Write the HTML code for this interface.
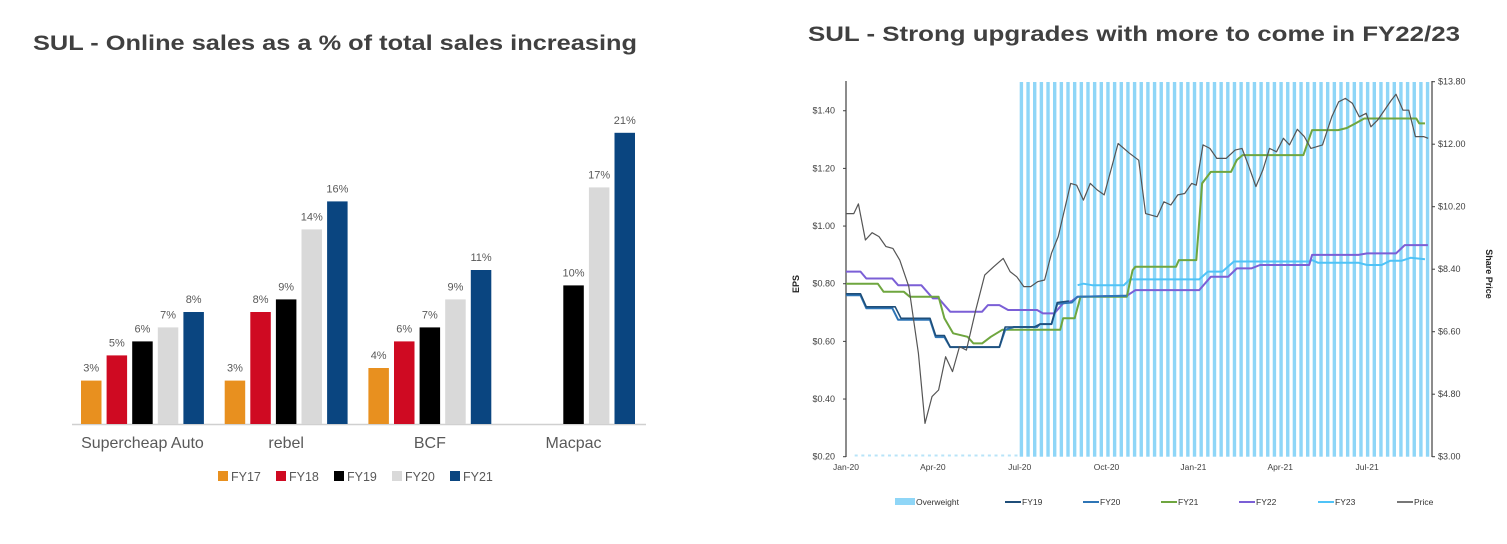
<!DOCTYPE html>
<html><head><meta charset="utf-8"><style>
body{margin:0;background:#fff;}
svg{display:block;font-family:"Liberation Sans","DejaVu Sans",sans-serif;}
</style></head><body>
<svg id="s" width="1507" height="544" viewBox="0 0 1507 544">
<text x="33" y="50" font-size="21" font-weight="bold" fill="#404040" textLength="604" lengthAdjust="spacingAndGlyphs">SUL - Online sales as a % of total sales increasing</text>
<text x="808" y="41" font-size="21" font-weight="bold" fill="#404040" textLength="652" lengthAdjust="spacingAndGlyphs">SUL - Strong upgrades with more to come in FY22/23</text>
<g id="bars"></g>
<g id="lines"></g>
</svg>
<script>
// ---------- Bar chart data ----------
const barCategories = ["Supercheap Auto","rebel","BCF","Macpac"];
const barSeries = ["FY17","FY18","FY19","FY20","FY21"];
const barFY17 = [3.1,3.1,4.0,null];
const barFY18 = [4.9,8.0,5.9,null];
const barFY19 = [5.9,8.9,6.9,9.9];
const barFY20 = [6.9,13.9,8.9,16.9];
const barFY21 = [8.0,15.9,11.0,20.8];
const barLabels = [["3%","5%","6%","7%","8%"],["3%","8%","9%","14%","16%"],["4%","6%","7%","9%","11%"],["","","10%","17%","21%"]];

// ---------- Line chart data ----------
const monthLabels = ["Jan-20","Apr-20","Jul-20","Oct-20","Jan-21","Apr-21","Jul-21"];
const epsTicks = [0.20,0.40,0.60,0.80,1.00,1.20,1.40];
const priceTicks = [3.00,4.80,6.60,8.40,10.20,12.00,13.80];
const overweightStart = 6.0, overweightEnd = 20.1;
const priceData = [[0,10.0],[0.27,10.0],[0.43,10.28],[0.67,9.24],[0.9,9.45],[1.14,9.34],[1.38,9.05],[1.62,9.0],[1.86,8.66],[2.17,7.9],[2.5,5.98],[2.73,3.96],[2.97,4.73],[3.2,4.92],[3.44,5.88],[3.68,5.45],[3.92,6.17],[4.16,6.07],[4.48,7.22],[4.79,8.23],[5.1,8.47],[5.43,8.71],[5.67,8.33],[5.9,8.18],[6.14,7.9],[6.38,7.9],[6.62,8.04],[6.86,8.09],[7.1,8.86],[7.33,9.34],[7.57,10.2],[7.76,10.87],[7.97,10.82],[8.2,10.39],[8.44,10.87],[8.68,10.68],[8.92,10.54],[9.4,12.02],[9.79,11.74],[10.11,11.54],[10.35,10.0],[10.75,9.91],[10.98,10.34],[11.22,10.25],[11.46,10.54],[11.7,10.58],[11.94,10.87],[12.1,10.82],[12.33,11.98],[12.57,11.88],[12.81,11.59],[13.13,11.59],[13.44,11.83],[13.68,11.88],[13.92,11.35],[14.16,10.78],[14.4,11.26],[14.63,11.88],[14.87,11.78],[15.11,12.17],[15.32,11.98],[15.59,12.43],[15.83,12.22],[16.06,11.88],[16.46,11.98],[16.78,12.79],[17.02,13.22],[17.25,13.32],[17.49,13.18],[17.73,12.79],[17.97,12.89],[18.13,12.5],[18.37,12.7],[18.84,13.27],[19.0,13.44],[19.24,12.98],[19.44,12.98],[19.67,12.22],[19.95,12.22],[20.11,12.17]];
const fy19Data = [[0,0.765],[0.5,0.765],[0.7,0.72],[1.7,0.72],[1.9,0.68],[2.9,0.68],[3.1,0.62],[3.4,0.62],[3.6,0.58],[5.3,0.58],[5.5,0.65],[6.5,0.65],[6.7,0.66],[7.1,0.66],[7.3,0.735],[7.7,0.74]];
const fy20Data = [[0,0.76],[0.5,0.76],[0.7,0.715],[1.6,0.715],[1.8,0.675],[2.9,0.675],[3.1,0.615],[3.4,0.615],[3.6,0.58],[5.3,0.58],[5.5,0.64],[5.8,0.65],[6.6,0.65],[6.7,0.66],[7.1,0.66],[7.3,0.73],[7.8,0.735],[8.0,0.755],[9.7,0.758]];
const fy21Data = [[0,0.80],[1.1,0.80],[1.3,0.772],[2.0,0.772],[2.2,0.755],[3.2,0.755],[3.4,0.68],[3.7,0.628],[4.2,0.616],[4.4,0.593],[4.7,0.593],[5.0,0.616],[5.4,0.64],[7.4,0.64],[7.5,0.68],[7.9,0.68],[8.1,0.755],[9.7,0.755],[9.9,0.847],[10.0,0.859],[11.4,0.859],[11.5,0.882],[12.1,0.882],[12.3,1.148],[12.6,1.188],[13.3,1.188],[13.5,1.229],[13.7,1.246],[15.8,1.246],[16.1,1.333],[17.0,1.333],[17.3,1.34],[17.6,1.356],[17.9,1.373],[19.7,1.373],[19.8,1.356],[20.0,1.356]];
const fy22Data = [[0,0.842],[0.5,0.842],[0.7,0.818],[1.6,0.818],[1.8,0.795],[2.6,0.795],[3.0,0.749],[3.2,0.749],[3.6,0.703],[4.7,0.703],[4.9,0.726],[5.3,0.726],[5.6,0.709],[6.6,0.709],[6.8,0.697],[7.2,0.697],[7.5,0.732],[7.8,0.74],[8.0,0.755],[9.7,0.758],[10.0,0.778],[12.2,0.778],[12.6,0.824],[13.2,0.824],[13.5,0.853],[14.0,0.853],[14.3,0.865],[16.0,0.865],[16.1,0.9],[17.7,0.9],[18.0,0.905],[19.0,0.905],[19.3,0.934],[20.1,0.934]];
const fy23Data = [[8.0,0.795],[8.2,0.80],[8.5,0.795],[9.6,0.795],[9.8,0.815],[12.2,0.815],[12.5,0.842],[13.0,0.842],[13.4,0.877],[16.0,0.877],[16.1,0.882],[16.3,0.873],[17.7,0.873],[18.0,0.865],[18.5,0.865],[18.8,0.88],[19.2,0.88],[19.5,0.89],[20.0,0.885]];

const NS="http://www.w3.org/2000/svg";
function mk(parent,tag,attrs,text){const e=document.createElementNS(NS,tag);for(const k in attrs)e.setAttribute(k,attrs[k]);if(text!==undefined)e.textContent=text;parent.appendChild(e);return e;}

// ---------- Bar chart ----------
const bg=document.getElementById('bars');
const barColors=["#e8901f","#cf0a22","#000000","#d9d9d9","#0a4580"];
const barValues=[barFY17,barFY18,barFY19,barFY20,barFY21];
const baseY=424, pxPerPct=14, groupX0=81, groupPitch=143.7, barPitch=25.6, barW=20.5;
function barY(v){return baseY-v*pxPerPct;}
const ax=mk(bg,'line',{x1:72,y1:baseY+0.5,x2:646,y2:baseY+0.5,stroke:'#d0d0d0','stroke-width':1.5});


barCategories.forEach((c,ci)=>{
  const gx=groupX0+ci*groupPitch;
  barValues.forEach((ser,si)=>{
    const v=ser[ci]; if(v===null) return;
    const x=gx+si*barPitch;
    const r=mk(bg,'rect',{x:x,y:barY(v),width:barW,height:v*pxPerPct,fill:barColors[si]});
    
    
    const t=mk(bg,'text',{x:x+barW/2,y:barY(v)-9,'font-size':11,'text-anchor':'middle',fill:'#595959'},barLabels[ci][si]);
    
    
  });
  const lt=mk(bg,'text',{x:gx+2*barPitch+barW/2,y:448,'font-size':16,'text-anchor':'middle',fill:'#595959'},c);
  
  
});
const legX=[218,276,334,392,450];
barSeries.forEach((s,i)=>{
  const r=mk(bg,'rect',{x:legX[i],y:471,width:10,height:10,fill:barColors[i]});
  
  
  const t=mk(bg,'text',{x:legX[i]+13,y:481,'font-size':12.5,fill:'#595959'},s);
  
  
});

// ---------- Line chart ----------
const lg=document.getElementById('lines');
const X0=846, PXM=28.95, XL=846, XR=1432;
function xs(m){return X0+m*PXM;}
function yl(v){return 456.7-(v-0.2)*288.3;}
function yr(p){return 456.7-(p-3)/10.8*375;}
for(let m=overweightStart;m<=overweightEnd+1e-6;m+=0.23){
  const r=mk(lg,'rect',{x:xs(m),y:82,width:3.4,height:374.7,fill:'#8fd6f7'});
  
  
}
for(let m=0.3;m<overweightStart;m+=0.23){
  const r=mk(lg,'rect',{x:xs(m),y:454.5,width:3,height:2,fill:'#b8e4f8'});
  
  
}
let a=mk(lg,'line',{x1:XL,y1:81,x2:XL,y2:457,stroke:'#404040','stroke-width':1.2});


a=mk(lg,'line',{x1:XR,y1:81,x2:XR,y2:457,stroke:'#404040','stroke-width':1.2});


epsTicks.forEach(v=>{
  const t=mk(lg,'text',{x:835,y:yl(v)+3,'font-size':9,'text-anchor':'end',fill:'#404040'},'$'+v.toFixed(2));
  
  
  mk(lg,'line',{x1:XL-3,y1:yl(v),x2:XL,y2:yl(v),stroke:'#404040'});
});
priceTicks.forEach(p=>{
  const t=mk(lg,'text',{x:1438,y:yr(p)+3,'font-size':9,fill:'#404040'},'$'+p.toFixed(2));
  
  
  mk(lg,'line',{x1:XR,y1:yr(p),x2:XR+3,y2:yr(p),stroke:'#404040'});
});
monthLabels.forEach((l,i)=>{
  const t=mk(lg,'text',{x:xs(i*3),y:470,'font-size':8.5,'text-anchor':'middle',fill:'#404040'},l);
  
  
});
let t=mk(lg,'text',{x:0,y:0,'font-size':9,'font-weight':'bold',fill:'#222','text-anchor':'middle',transform:'translate(799,284) rotate(-90)'},'EPS');


t=mk(lg,'text',{x:0,y:0,'font-size':9,'font-weight':'bold',fill:'#222','text-anchor':'middle',transform:'translate(1486,274) rotate(90)'},'Share Price');


function drawLine(data,yf,color,w,name){
  const pts=data.map(d=>xs(d[0]).toFixed(1)+','+yf(d[1]).toFixed(1)).join(' ');
  const p=mk(lg,'polyline',{points:pts,fill:'none',stroke:color,'stroke-width':w,'stroke-linejoin':'round'});
  
  
}
drawLine(fy23Data,yl,'#4fc3f7',2,'fy23-line');
drawLine(fy22Data,yl,'#7b5fd6',2,'fy22-line');
drawLine(fy21Data,yl,'#6fa63f',2,'fy21-line');
drawLine(fy20Data,yl,'#2e75b6',2,'fy20-line');
drawLine(fy19Data,yl,'#1f4e79',1.6,'fy19-line');
drawLine(priceData,yr,'#555555',1.2,'price-line');
const legItems=[["Overweight","#8fd6f7",895,true],["FY19","#1f4e79",1005,false],["FY20","#2e75b6",1083,false],["FY21","#6fa63f",1161,false],["FY22","#7b5fd6",1239,false],["FY23","#4fc3f7",1318,false],["Price","#777777",1397,false]];
legItems.forEach(li=>{
  if(li[3]){const r=mk(lg,'rect',{x:li[2],y:498,width:20,height:7,fill:li[1]});
    
    }
  else{const l=mk(lg,'line',{x1:li[2],y1:502,x2:li[2]+16,y2:502,stroke:li[1],'stroke-width':2});
    
    }
  const tt=mk(lg,'text',{x:li[2]+(li[3]?21:17),y:505,'font-size':8.5,fill:'#333'},li[0]);
  
  
});
</script>
</body></html>
